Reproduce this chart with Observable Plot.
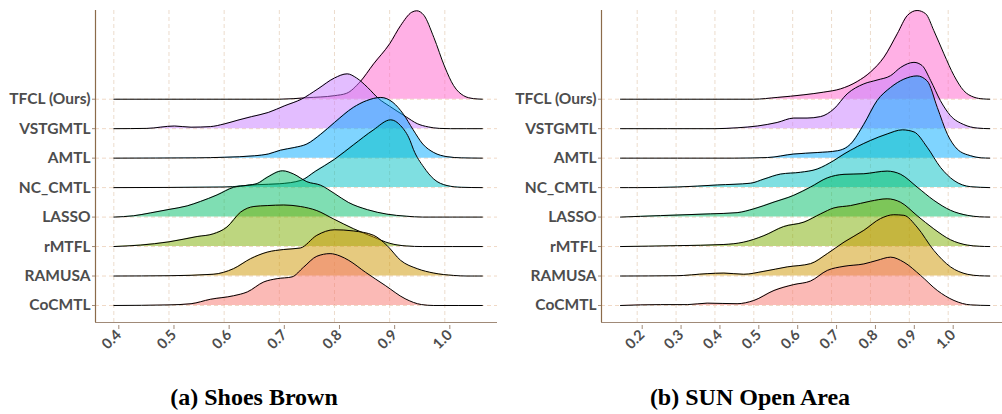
<!DOCTYPE html>
<html><head><meta charset="utf-8">
<script src="https://cdn.jsdelivr.net/npm/d3@7"></script>
<script src="https://cdn.jsdelivr.net/npm/@observablehq/plot@0.6"></script>
<style>
body{margin:0;background:#fff;width:1002px;height:414px;overflow:hidden;position:relative;font-family:Lato,sans-serif}
#left{position:absolute;left:0;top:0}
#right{position:absolute;left:500px;top:0}
.cap{position:absolute;top:385px;font-family:"Liberation Serif","Times New Roman",serif;font-weight:bold;font-size:24px;line-height:1;transform:translateX(-50%);white-space:nowrap;color:#000}
</style></head><body>
<div id="left"></div><div id="right"></div>
<div class="cap" style="left:254px">(a) Shoes Brown</div>
<div class="cap" style="left:750px">(b) SUN Open Area</div>
<script>
// categories, bottom row first
const methods = ["CoCMTL","RAMUSA","rMTFL","LASSO","NC_CMTL","AMTL","VSTGMTL","TFCL (Ours)"];
const colors = ["#F8766D","#CD9600","#7CAE00","#00BE67","#00BFC4","#00A9FF","#C77CFF","#FF61CC"];
const shoesTicks = [0.4,0.5,0.6,0.7,0.8,0.9,1.0];
const sunTicks = [0.2,0.3,0.4,0.5,0.6,0.7,0.8,0.9,1.0];

// (a) Shoes Brown: [accuracy, density height in row units]
const shoesCoCMTL = [[0.40,0],[0.50,0.02],[0.54,0.06],[0.575,0.21],[0.617,0.33],[0.642,0.46],[0.672,0.8],[0.696,0.91],[0.723,0.97],[0.744,1.3],[0.768,1.67],[0.792,1.76],[0.81,1.68],[0.826,1.53],[0.856,1.13],[0.892,0.68],[0.928,0.23],[0.958,0.03],[0.98,0],[1.068,0]];
const shoesRAMUSA = [[0.40,0],[0.50,0.01],[0.58,0.06],[0.617,0.25],[0.648,0.59],[0.678,0.81],[0.708,0.9],[0.738,0.95],[0.768,1.38],[0.800,1.57],[0.834,1.53],[0.871,1.38],[0.895,1.04],[0.92,0.53],[0.95,0.25],[0.98,0.1],[1.016,0.02],[1.04,0],[1.068,0]];
const shoesRMTFL = [[0.40,0],[0.448,0.05],[0.50,0.16],[0.551,0.34],[0.58,0.43],[0.605,0.66],[0.63,1.17],[0.654,1.36],[0.678,1.39],[0.708,1.41],[0.738,1.36],[0.768,1.22],[0.798,0.94],[0.835,0.6],[0.871,0.32],[0.90,0.11],[0.93,0.02],[0.96,0],[1.068,0]];
const shoesLASSO = [[0.40,0],[0.436,0.045],[0.466,0.14],[0.50,0.26],[0.533,0.38],[0.557,0.53],[0.587,0.75],[0.617,1.01],[0.642,1.08],[0.66,1.14],[0.678,1.35],[0.706,1.57],[0.726,1.46],[0.75,1.2],[0.775,1.08],[0.80,0.8],[0.825,0.5],[0.86,0.25],[0.895,0.1],[0.93,0.03],[0.96,0],[1.068,0]];
const shoesNCCMTL = [[0.40,0],[0.60,0.02],[0.66,0.1],[0.70,0.13],[0.74,0.25],[0.765,0.55],[0.80,0.96],[0.835,1.46],[0.87,1.95],[0.902,2.3],[0.92,2.1],[0.937,1.6],[0.943,1.3],[0.962,0.69],[0.98,0.29],[1.004,0.07],[1.03,0.01],[1.068,0]];
const shoesAMTL = [[0.40,0],[0.55,0.01],[0.60,0.03],[0.655,0.08],[0.68,0.14],[0.702,0.27],[0.727,0.36],[0.75,0.48],[0.775,0.81],[0.80,1.21],[0.834,1.72],[0.858,1.95],[0.884,2.06],[0.906,1.89],[0.925,1.49],[0.942,0.98],[0.96,0.48],[0.98,0.19],[1.004,0.05],[1.03,0.01],[1.068,0]];
const shoesVSTGMTL = [[0.40,0],[0.46,0.01],[0.51,0.09],[0.54,0.05],[0.575,0.07],[0.60,0.16],[0.625,0.29],[0.65,0.41],[0.68,0.55],[0.71,0.78],[0.74,1.0],[0.77,1.35],[0.80,1.72],[0.823,1.86],[0.84,1.72],[0.86,1.4],[0.88,1.02],[0.90,0.76],[0.93,0.4],[0.95,0.17],[0.97,0.06],[0.99,0.01],[1.01,0],[1.068,0]];
const shoesTFCL = [[0.40,0],[0.70,0],[0.75,0.05],[0.80,0.12],[0.822,0.2],[0.846,0.58],[0.871,1.2],[0.90,1.88],[0.92,2.5],[0.94,2.95],[0.949,3.0],[0.962,2.85],[0.98,2.1],[1.00,1.09],[1.016,0.46],[1.034,0.12],[1.052,0.02],[1.068,0]];

// (b) SUN Open Area
const sunCoCMTL = [[0.157,0],[0.26,0.03],[0.329,0.03],[0.38,0.08],[0.457,0.06],[0.50,0.17],[0.552,0.51],[0.603,0.71],[0.646,0.83],[0.689,1.19],[0.732,1.33],[0.783,1.41],[0.817,1.53],[0.852,1.64],[0.886,1.47],[0.929,1.02],[0.972,0.51],[1.015,0.17],[1.058,0.02],[1.107,0]];
const sunRAMUSA = [[0.157,0],[0.30,0.01],[0.38,0.08],[0.423,0.1],[0.474,0.06],[0.526,0.16],[0.586,0.31],[0.646,0.42],[0.689,0.76],[0.732,1.15],[0.783,1.55],[0.826,1.95],[0.86,2.08],[0.886,2.06],[0.92,1.66],[0.963,0.87],[1.006,0.31],[1.049,0.06],[1.08,0.01],[1.107,0]];
const sunRMTFL = [[0.157,0],[0.303,0.03],[0.423,0.07],[0.474,0.15],[0.526,0.37],[0.577,0.68],[0.629,0.83],[0.672,1.11],[0.706,1.31],[0.749,1.39],[0.80,1.54],[0.843,1.62],[0.878,1.5],[0.92,1.05],[0.963,0.6],[1.006,0.23],[1.049,0.05],[1.08,0.01],[1.107,0]];
const sunLASSO = [[0.157,0],[0.26,0.05],[0.389,0.11],[0.457,0.15],[0.50,0.28],[0.552,0.51],[0.603,0.74],[0.646,1.02],[0.689,1.33],[0.732,1.45],[0.783,1.47],[0.843,1.56],[0.878,1.45],[0.92,1.02],[0.963,0.57],[1.006,0.23],[1.049,0.06],[1.08,0.01],[1.107,0]];
const sunNCCMTL = [[0.157,0],[0.20,0],[0.303,0.02],[0.406,0.09],[0.492,0.15],[0.526,0.29],[0.569,0.46],[0.62,0.52],[0.663,0.63],[0.706,0.92],[0.732,1.14],[0.80,1.6],[0.843,1.82],[0.882,1.96],[0.912,1.89],[0.946,1.37],[0.98,0.69],[1.015,0.24],[1.058,0.03],[1.107,0]];
const sunAMTL = [[0.157,0],[0.45,0],[0.535,0.02],[0.603,0.14],[0.663,0.19],[0.715,0.25],[0.749,0.48],[0.783,1.15],[0.817,1.95],[0.852,2.4],[0.886,2.68],[0.92,2.79],[0.946,2.62],[0.972,1.72],[0.998,0.81],[1.023,0.31],[1.058,0.08],[1.085,0.01],[1.107,0]];
const sunVSTGMTL = [[0.157,0],[0.40,0],[0.457,0.03],[0.509,0.09],[0.56,0.21],[0.603,0.36],[0.637,0.36],[0.672,0.41],[0.706,0.67],[0.74,1.18],[0.783,1.52],[0.817,1.65],[0.852,1.8],[0.878,2.08],[0.912,2.25],[0.933,2.14],[0.955,1.63],[0.98,0.95],[1.006,0.44],[1.04,0.14],[1.075,0.02],[1.107,0]];
const sunTFCL = [[0.157,0],[0.50,0],[0.56,0.06],[0.629,0.15],[0.68,0.24],[0.723,0.35],[0.766,0.6],[0.80,0.92],[0.835,1.43],[0.869,2.22],[0.895,2.84],[0.92,3.01],[0.942,2.9],[0.963,2.33],[0.989,1.54],[1.015,0.8],[1.04,0.29],[1.066,0.07],[1.09,0.01],[1.107,0]];

const shoesSeries = [shoesCoCMTL, shoesRAMUSA, shoesRMTFL, shoesLASSO, shoesNCCMTL, shoesAMTL, shoesVSTGMTL, shoesTFCL];
const sunSeries = [sunCoCMTL, sunRAMUSA, sunRMTFL, sunLASSO, sunNCCMTL, sunAMTL, sunVSTGMTL, sunTFCL];

const rows = methods.map((m, i) => i);
const yDomain = [-0.577, 10.01];

function ridge(series, ticks, xDomain, width, marginLeft, marginRight) {
  const marks = [
    Plot.ruleX(ticks, {stroke: "#ecdccc", strokeDasharray: "4,3", strokeWidth: 1}),
    Plot.ruleY(rows, {stroke: "#f0d9c6", strokeDasharray: "4,3", strokeWidth: 1})
  ];
  for (let i = series.length - 1; i >= 0; i--) {
    const d = series[i];
    marks.push(Plot.areaY(d, {x: p => p[0], y1: () => i, y2: p => i + p[1], fill: colors[i], fillOpacity: 0.5, curve: "monotone-x"}));
    marks.push(Plot.line(d, {x: p => p[0], y: p => i + p[1], stroke: "#000", strokeWidth: 1, curve: "monotone-x"}));
  }
  marks.push(Plot.ruleX([xDomain[0]], {stroke: "#8b6b4a", strokeWidth: 1.2}));
  marks.push(Plot.ruleY([yDomain[0]], {stroke: "#a08a78", strokeWidth: 1.2}));
  marks.push(Plot.axisY(rows, {tickFormat: i => methods[i], fontSize: 15.5, fontWeight: "bold", fill: "#4d4d4d", stroke: "#a08a78", tickSize: 3, tickPadding: 2, label: null}));
  marks.push(Plot.axisX(ticks, {tickFormat: d3.format(".1f"), tickRotate: -45, fontSize: 14.5, fontWeight: "bold", fill: "#4d4d4d", stroke: "#a08a78", tickSize: 4, tickPadding: 3, dx: 5, dy: 3, label: null}));
  return Plot.plot({
    width, height: 370, marginLeft, marginRight, marginTop: 10, marginBottom: 48,
    style: {fontFamily: "Lato, sans-serif", background: "transparent", overflow: "visible"},
    x: {domain: xDomain, nice: false},
    y: {domain: yDomain},
    marks
  });
}

document.getElementById("left").appendChild(ridge(shoesSeries, shoesTicks, [0.3668, 1.0955], 501, 95, 4));
document.getElementById("right").appendChild(ridge(sunSeries, sunTicks, [0.1082, 1.1397], 502, 101, 0));
</script>
</body></html>
